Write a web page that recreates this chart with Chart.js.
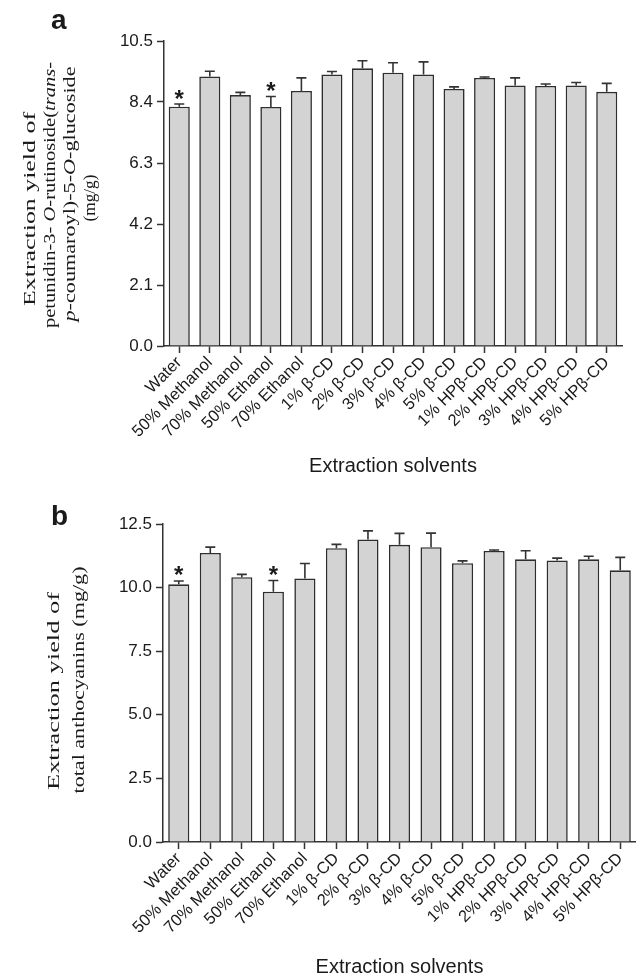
<!DOCTYPE html>
<html>
<head>
<meta charset="utf-8">
<script src="https://cdn.jsdelivr.net/npm/chart.js@4.4.1/dist/chart.umd.min.js"></script>
<style>
  body { margin: 0; background: #fff; width: 636px; height: 979px; overflow: hidden; }
  canvas { display: block; }
</style>
</head>
<body>
<canvas id="chartA" width="636" height="490"></canvas>
<canvas id="chartB" width="636" height="489"></canvas>
<script>
// solvents on the x axis (same for both panels)
var solvents = ['Water', '50% Methanol', '70% Methanol', '50% Ethanol', '70% Ethanol',
  '1% β-CD', '2% β-CD', '3% β-CD', '4% β-CD', '5% β-CD',
  '1% HPβ-CD', '2% HPβ-CD', '3% HPβ-CD', '4% HPβ-CD', '5% HPβ-CD'];

// panel a: petunidin-3-O-rutinoside(trans-p-coumaroyl)-5-O-glucoside (mg/g)
var petunidinMean = [8.24, 9.28, 8.64, 8.23, 8.78, 9.35, 9.56, 9.41, 9.35, 8.85, 9.23, 8.97, 8.95, 8.97, 8.75];
var petunidinErr  = [0.09, 0.18, 0.09, 0.36, 0.45, 0.10, 0.26, 0.34, 0.43, 0.07, 0.03, 0.26, 0.07, 0.10, 0.29];
var ticksA = [0, 2.1, 4.2, 6.3, 8.4, 10.5];

// panel b: total anthocyanins (mg/g)
var totalMean = [10.13, 11.36, 10.41, 9.84, 10.36, 11.55, 11.89, 11.68, 11.59, 10.96, 11.44, 11.11, 11.07, 11.11, 10.68];
var totalErr  = [0.13, 0.23, 0.11, 0.44, 0.59, 0.15, 0.34, 0.45, 0.55, 0.09, 0.04, 0.34, 0.09, 0.12, 0.51];
var ticksB = [0, 2.5, 5.0, 7.5, 10.0, 12.5];

// bars marked with an asterisk
var starred = [0, 3];

var titleA = [
  [{t: 'Extraction yield of'}],
  [{t: 'petunidin-3- '}, {t: 'O', it: true}, {t: '-rutinoside('}, {t: 'trans', it: true}, {t: '-'}],
  [{t: 'p', it: true}, {t: '-coumaroyl)-5-'}, {t: 'O', it: true}, {t: '-glucoside'}],
  [{t: '(mg/g)'}]
];
var titleB = [
  [{t: 'Extraction yield of'}],
  [{t: 'total anthocyanins (mg/g)'}]
];

var ink = '#1a1a1a';
var sans = 'Liberation Sans';

// error bars (upper half only) + asterisks
var errorBars = {
  id: 'errorBars',
  afterDatasetsDraw: function(chart, args, opts) {
    var ctx = chart.ctx;
    var y = chart.scales.y;
    var meta = chart.getDatasetMeta(0);
    var vals = chart.data.datasets[0].data;
    ctx.save();
    ctx.strokeStyle = '#333';
    ctx.lineWidth = 1.6;
    meta.data.forEach(function(bar, i) {
      var top = y.getPixelForValue(vals[i] + opts.err[i]);
      var base = y.getPixelForValue(vals[i]);
      ctx.beginPath();
      ctx.moveTo(bar.x, base);
      ctx.lineTo(bar.x, top);
      ctx.moveTo(bar.x - 5, top);
      ctx.lineTo(bar.x + 5, top);
      ctx.stroke();
    });
    ctx.fillStyle = ink;
    ctx.font = 'bold 24px "' + sans + '"';
    ctx.textAlign = 'center';
    ctx.textBaseline = 'alphabetic';
    var m = ctx.measureText('*');
    var mid = (m.actualBoundingBoxAscent - m.actualBoundingBoxDescent) / 2;
    opts.stars.forEach(function(i) {
      var top = y.getPixelForValue(vals[i] + opts.err[i]);
      ctx.fillText('*', meta.data[i].x, top - 10 + mid);
    });
    ctx.restore();
  }
};

// rotated multi-style y title and panel letter
var sideText = {
  id: 'sideText',
  afterDraw: function(chart, args, opts) {
    var ctx = chart.ctx;
    ctx.save();
    ctx.fillStyle = ink;
    ctx.textAlign = 'left';
    ctx.textBaseline = 'alphabetic';
    opts.lines.forEach(function(line, i) {
      var w = 0;
      line.forEach(function(s) {
        ctx.font = (s.it ? 'italic ' : '') + opts.size + 'px "Liberation Serif"';
        w += ctx.measureText(s.t).width;
      });
      ctx.save();
      ctx.translate(opts.x[i], opts.cy[i]);
      ctx.rotate(-Math.PI / 2);
      ctx.scale(opts.len[i] / w, 1);
      var pos = -w / 2;
      line.forEach(function(s) {
        ctx.font = (s.it ? 'italic ' : '') + opts.size + 'px "Liberation Serif"';
        ctx.fillText(s.t, pos, 0);
        pos += ctx.measureText(s.t).width;
      });
      ctx.restore();
    });
    ctx.font = 'bold 28px "' + sans + '"';
    ctx.fillText(opts.letter, opts.lx, opts.ly);
    ctx.restore();
  }
};

function makeChart(id, values, errs, ticks, yMax, cfg) {
  return new Chart(document.getElementById(id), {
    type: 'bar',
    data: {
      labels: solvents,
      datasets: [{
        data: values,
        backgroundColor: '#d3d3d3',
        borderColor: '#2e2e2e',
        borderWidth: 1.6,
        barPercentage: cfg.barPct,
        categoryPercentage: 1
      }]
    },
    options: {
      responsive: false,
      animation: false,
      layout: { padding: cfg.padding },
      plugins: {
        legend: { display: false },
        tooltip: { enabled: false },
        errorBars: { err: errs, stars: starred },
        sideText: cfg.side
      },
      scales: {
        x: {
          offset: true,
          grid: { display: true, drawOnChartArea: false, drawTicks: true, tickLength: 7, tickColor: '#333', tickWidth: 1.5, offset: false },
          border: { display: true, color: '#333', width: 1.5 },
          ticks: { autoSkip: false, maxRotation: 45, minRotation: 45, padding: 0, color: ink, font: { family: sans, size: 16.5 } },
          title: { display: true, text: 'Extraction solvents', color: ink, font: { family: sans, size: 20 }, padding: { top: 0, bottom: cfg.titlePad } },
          afterFit: function(s) { s.height = cfg.xHeight; }
        },
        y: {
          min: 0,
          max: yMax,
          grid: { display: true, drawOnChartArea: false, drawTicks: true, tickLength: 7, tickColor: '#333', tickWidth: 1.5 },
          border: { display: true, color: '#333', width: 1.5 },
          ticks: {
            padding: 4, color: ink, font: { family: sans, size: 17 },
            callback: function(v) { return Number(v).toFixed(1); }
          },
          afterBuildTicks: function(s) { s.ticks = ticks.map(function(v) { return { value: v }; }); },
          afterFit: function(s) { s.width = cfg.yWidth; }
        }
      }
    },
    plugins: [errorBars, sideText]
  });
}

makeChart('chartA', petunidinMean, petunidinErr, ticksA, 10.5, {
  barPct: 0.69,
  padding: { left: 0, right: 14, top: 41, bottom: 0 },
  xHeight: 144, yWidth: 164, titlePad: 12,
  side: { lines: titleA, size: 16.5, x: [35, 55, 75, 95], cy: [209, 195, 194, 198], len: [194, 266, 255, 47], letter: 'a', lx: 51, ly: 29 }
});

makeChart('chartB', totalMean, totalErr, ticksB, 12.5, {
  barPct: 0.67,
  padding: { left: 0, right: 0, top: 34, bottom: 0 },
  xHeight: 137, yWidth: 163, titlePad: 0,
  side: { lines: titleB, size: 16.5, x: [59, 84], cy: [201, 190], len: [198, 227], letter: 'b', lx: 51, ly: 35 }
});
</script>
</body>
</html>
